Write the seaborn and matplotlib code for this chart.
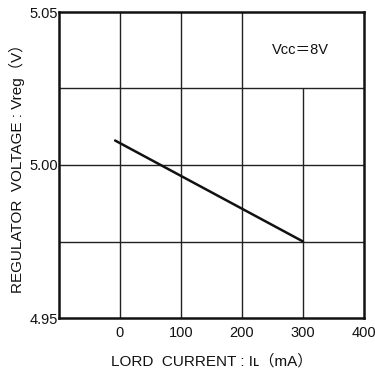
import matplotlib
matplotlib.use("Agg")
import matplotlib.pyplot as plt
import seaborn as sns
import pandas as pd

# Data
load_current = [-8, 300]          # mA
reg_voltage = [5.008, 4.975]      # V

x_ticks = [-100, 0, 100, 200, 300, 400]
x_tick_labels = ["", "0", "100", "200", "300", "400"]
y_ticks = [4.95, 4.975, 5.00, 5.025, 5.05]
y_tick_labels = ["4.95", "", "5.00", "", "5.05"]

sns.set_theme(style="white")
plt.rcParams['font.family'] = ['Liberation Sans', 'DejaVu Sans', 'Noto Sans CJK JP']

fig = plt.figure(figsize=(3.75, 3.72), dpi=100)
ax = fig.add_axes([59/375, 1-318/372, (364-59)/375, (318-12)/372])

df = pd.DataFrame({"I": load_current, "V": reg_voltage})
sns.lineplot(data=df, x="I", y="V", ax=ax, color="#111111", linewidth=1.8)

ax.set_xlim(-100, 400)
ax.set_ylim(4.95, 5.05)

# grid lines (the x=300 line stops under the Vcc label)
grid_kw = dict(color="#222222", linewidth=1.0, zorder=0)
for xv in [0, 100, 200]:
    ax.axvline(xv, **grid_kw)
ax.vlines(300, 4.95, 5.025, **grid_kw)
for yv in [4.975, 5.00, 5.025]:
    ax.axhline(yv, **grid_kw)

for s in ax.spines.values():
    s.set_color("#111111")
    s.set_linewidth(1.8)

ax.set_xticks(x_ticks)
ax.set_xticklabels(x_tick_labels)
ax.set_yticks(y_ticks)
ax.set_yticklabels(y_tick_labels)
ax.tick_params(axis="both", length=0, labelsize=10.5, colors="#111111")
ax.tick_params(axis="x", pad=6)
ax.tick_params(axis="y", pad=1)

ax.set_xlabel("LORD  CURRENT : Iʟ（mA）", fontsize=11, color="#111111", labelpad=10)
ax.set_ylabel("REGULATOR  VOLTAGE : Vreg（V）", fontsize=11, color="#111111", labelpad=3)

ax.text(295, 5.0376, "Vᴄᴄ＝8V", fontsize=10.5, ha="center", va="center", color="#111111")

fig.savefig("out.png", dpi=100)
